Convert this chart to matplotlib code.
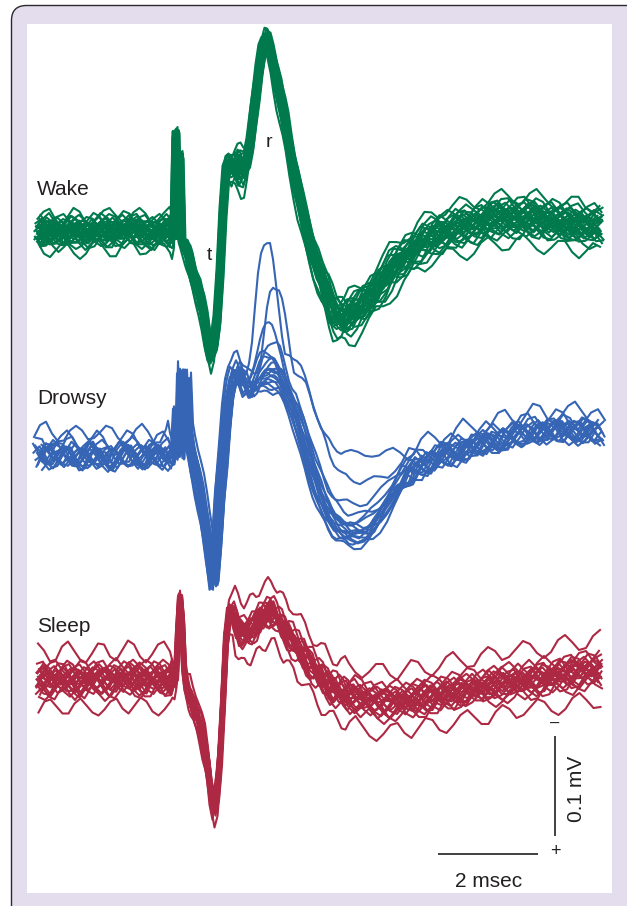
import numpy as np
import matplotlib.pyplot as plt
from matplotlib.patches import FancyBboxPatch, Rectangle

# sample times in ms from sweep start; sampled more densely around the stimulus artifact
t_ms = np.concatenate([
    np.linspace(0.00, 2.64, 23),
    np.linspace(2.68, 3.00, 9),
    np.linspace(3.04, 3.88, 15),
    np.linspace(3.94, 5.02, 19),
    np.linspace(5.10, 6.22, 15),
    np.linspace(6.34, 11.24, 36),
])

# mean response per state (uV relative to the pre-stimulus baseline)
wake_uv = ([0, -1, 1, 0, -1, 0, 1, 0, -1, 1, 2, 1, 0, 1, 2, 3, 2, 1, 0, -1, 0, 1, 1]
           + [0, 0, 100, -4, 77, -8, -12, -16, -22]
           + [-30, -40, -50, -60, -73, -90, -110, -122, -113, -86, -38, 22, 60, 67, 64]
           + [64, 64, 62, 64, 72, 92, 117, 137, 160, 180, 192, 190, 180, 167, 152, 137, 122, 107, 90]
           + [67, 47, 27, 10, -6, -20, -33, -46, -58, -68, -78, -83, -86, -86, -84]
           + [-80, -73, -66, -58, -50, -40, -32, -26, -20, -14, -9, -5, -2, 0, 3, 5, 6, 8,
              10, 12, 13, 14, 14, 14, 14, 14, 13, 12, 11, 10, 9, 8, 7, 6, 6, 5])
drowsy_uv = ([-1, 1, 0, -2, -1, 1, -1, -3, -2, 0, -1, -3, -4, -2, -1, 0, -1, -2, -1, 0, -1, -2, -1]
             + [1, 1, 3, 41, -2, 81, 28, 73, 21]
             + [8, -4, -19, -35, -52, -69, -87, -107, -130, -92, -42, -9, 28, 55, 71]
             + [78, 81, 78, 71, 65, 63, 68, 75, 81, 87, 91, 93, 93, 92, 89, 83, 75, 65, 57]
             + [49, 37, 25, 12, -1, -14, -26, -37, -47, -55, -61, -66, -69, -71, -72]
             + [-73, -73, -70, -63, -53, -42, -32, -24, -18, -13, -9, -6, -3, -1, 1, 3, 6, 8,
                10, 12, 13, 15, 17, 19, 20, 21, 22, 23, 23, 23, 23, 23, 23, 23, 22, 21])
sleep_uv = ([0, 1, -1, 0, 2, 1, 0, -1, 0, 1, 2, 0, -1, 1, 2, 3, 2, 1, 0, 1, 2, 1, 0]
            + [0, 0, 4, 50, 84, 60, 12, -5, -13]
            + [-17, -25, -32, -42, -55, -68, -88, -115, -128, -112, -75, -20, 40, 65, 68]
            + [60, 52, 48, 47, 48, 50, 53, 56, 60, 63, 65, 67, 68, 66, 62, 57, 52, 48, 44]
            + [39, 33, 28, 23, 18, 13, 8, 3, -1, -5, -8, -10, -12, -14, -15]
            + [-16, -18, -20, -21, -22, -22, -21, -20, -19, -18, -17, -16, -15, -13, -12, -11,
               -10, -8, -7, -6, -5, -4, -3, -2, -1, 0, 1, 2, 3, 5, 6, 7, 8, 9, 10, 10])

# sweep-to-sweep spread (uV) and sample noise (uV)
wake_spread = ([10] * 23 + [10, 7, 3, 3, 3, 4, 5, 6, 7] + [9] * 15
               + [13, 13, 13, 13, 12, 11, 11, 11, 11, 10, 9, 8, 9, 10, 11, 12, 12, 12, 12]
               + [12, 12, 12, 12, 12, 12, 12, 13, 13, 14, 14, 14, 14, 14, 14] + [14] * 36)
wake_noise = ([9] * 23 + [9, 6, 2, 2, 2, 2, 2, 3, 3] + [4] * 15
              + [8, 8, 8, 8, 7, 5, 4, 4, 4, 4, 3, 3, 3, 4, 4, 4, 4, 4, 4]
              + [4, 4, 4, 4, 4, 5, 5, 6, 6, 7, 7, 7, 7, 8, 8] + [9] * 36)
drowsy_spread = ([7] * 23 + [7, 6, 4, 3, 3, 3, 3, 3, 3] + [6] * 15
                 + [6, 6, 6, 6, 6, 7, 8, 12, 22, 32, 38, 40, 40, 40, 36, 30, 24, 18, 14]
                 + [16, 20, 24, 26, 26, 26, 26, 26, 25, 25, 25, 25, 25, 25, 25]
                 + [25, 25, 24, 21, 17, 14, 12, 10, 8] + [6] * 27)
drowsy_noise = ([11] * 23 + [11, 8, 3, 3, 3, 3, 3, 3, 4] + [4] * 15
                + [7, 7, 7, 7, 6, 5, 3] + [2] * 12 + [3] * 15 + [4] * 7 + [11] * 29)
sleep_spread = [11] * 23 + [11, 8, 4, 3, 2, 3, 4, 5, 6] + [8] * 15 + [12] * 34 + [12] * 36
sleep_noise = [10] * 23 + [10, 6, 2, 2, 1, 2, 2, 3, 4] + [5] * 15 + [6] * 19 + [8] * 15 + [10] * 36

# per-sweep amplitude offset (in units of spread) and latency shift (ms)
wake_w = [-1.0, -0.9, -0.8, -0.7, -0.6, -0.5, -0.45, -0.35, -0.3, -0.2, -0.15, -0.05,
          0.0, 0.05, 0.1, 0.2, 0.25, 0.3, 0.4, 0.45, 0.5, 0.6, 0.7, 0.8, 0.9, 1.0,
          -0.25, 0.15, -1.8, 1.5]
wake_dt = [-0.07, 0.04, -0.01, 0.06, -0.05, 0.01, 0.07, -0.04, 0.03, -0.06, 0.05, -0.02,
           0.04, -0.03, 0.01, 0.06, -0.02, 0.0, 0.03, -0.07, 0.02, -0.05, 0.01, 0.05,
           -0.02, 0.03, -0.04, 0.02, 0.0, -0.01]
drowsy_w = [2.9, 1.8, 0.9, 0.45, 0.2, 0.0, -0.2, -0.35, -0.4, -0.5, -0.6, -0.7, -0.8,
            -0.3, 0.1, -0.1, -0.55, -0.25]
drowsy_dt = [-0.08, 0.1, -0.04, 0.06, -0.1, 0.02, 0.09, -0.06, 0.0, 0.05, -0.09, 0.08,
             -0.02, 0.04, -0.05, 0.07, -0.03, 0.01]
sleep_w = [-1.0, -0.85, -0.7, -0.6, -0.45, -0.35, -0.25, -0.15, -0.05, 0.0, 0.05, 0.15,
           0.25, 0.35, 0.45, 0.6, 0.7, 0.85, 1.0, -0.5, 0.3, -0.2, 2.5, -2.5]
sleep_dt = [0.02, -0.03, 0.04, -0.01, 0.03, -0.04, 0.0, 0.02, -0.02, 0.04, -0.03, 0.01,
            0.03, -0.04, 0.02, -0.01, 0.04, -0.02, 0.0, 0.01, -0.03, 0.03, 0.0, 0.01]

RIPPLE = [0.3, 1.0, 0.6, -0.4, -1.0, -0.5, 0.5, 0.9, 0.1, -0.8, -0.7, 0.4, 1.0, 0.2,
          -0.6, -1.0, -0.2, 0.7, 0.8, -0.3, -0.9, 0.0, 0.9, 0.6, -0.5, -1.0, -0.3, 0.6,
          1.0, 0.1, -0.7, -0.8, 0.3, 0.9, 0.4, -0.6, -0.4]

W, H = 627, 906
INK = '#231F20'
fig = plt.figure(figsize=(W / 100, H / 100), dpi=100, facecolor='white')

# frame: lavender rounded border with a white panel
bg = fig.add_axes([0, 0, 1, 1], zorder=0)
bg.set_xlim(0, W)
bg.set_ylim(H, 0)
bg.axis('off')
bg.add_patch(FancyBboxPatch((11.5, 5.5), 660, 940, boxstyle='round,pad=0,rounding_size=15',
                            facecolor='#E4DDED', edgecolor='#2B2B2B', lw=1.0))
bg.add_patch(Rectangle((27, 24), 585, 869, facecolor='white', edgecolor='none'))

# traces: x in ms (50 px per ms), y in uV (1 px per uV), measured downward from the top
ax = fig.add_axes([0, 0, 1, 1], zorder=1)
ax.patch.set_alpha(0)
ax.axis('off')
ax.set_xlim(-38 / 50, (W - 38) / 50)
ax.set_ylim(-H, 0)


def draw_sweeps(mean, spread, noise, weights, shifts, base, color, phase):
    mean, spread, noise = (np.asarray(a, float) for a in (mean, spread, noise))
    for k, (w, dt) in enumerate(zip(weights, shifts)):
        # each sweep reads the ripple table from a different starting point
        ripple = np.resize(np.roll(RIPPLE, 2 * k + phase), len(t_ms))
        v = mean + w * spread + noise * ripple
        ax.plot(t_ms + dt, v - base, color=color, lw=1.5, solid_joinstyle='round')


draw_sweeps(wake_uv, wake_spread, wake_noise, wake_w, wake_dt, 232, '#007A4D', 0)
draw_sweeps(drowsy_uv, drowsy_spread, drowsy_noise, drowsy_w, drowsy_dt, 453, '#3565B4', 11)
draw_sweeps(sleep_uv, sleep_spread, sleep_noise, sleep_w, sleep_dt, 680, '#AD2843', 23)

# calibration bars: 2 ms and 0.1 mV
ax.plot([8.0, 10.0], [-854, -854], color=INK, lw=1.2, solid_capstyle='butt')
ax.plot([10.34, 10.34], [-836, -736], color=INK, lw=1.2, solid_capstyle='butt')


def label(x, y, s, **kw):
    fig.text(x / W, 1 - y / H, s, color=INK, family='Liberation Sans', **kw)


label(37, 195, 'Wake', fontsize=15, va='baseline')
label(37, 404, 'Drowsy', fontsize=15, va='baseline')
label(37, 632, 'Sleep', fontsize=15, va='baseline')
label(209, 260, 't', fontsize=14, va='baseline', ha='center')
label(269, 147, 'r', fontsize=14, va='baseline', ha='center')
label(489, 887, '2 msec', fontsize=15, va='baseline', ha='center')
label(577, 789, '0.1 mV', fontsize=15, va='center', ha='center', rotation=90)
label(555, 723, '\u2013', fontsize=12, va='center', ha='center')
label(555, 852, '+', fontsize=13, va='center', ha='center')

fig.savefig('out.png', dpi=100, facecolor='white')
